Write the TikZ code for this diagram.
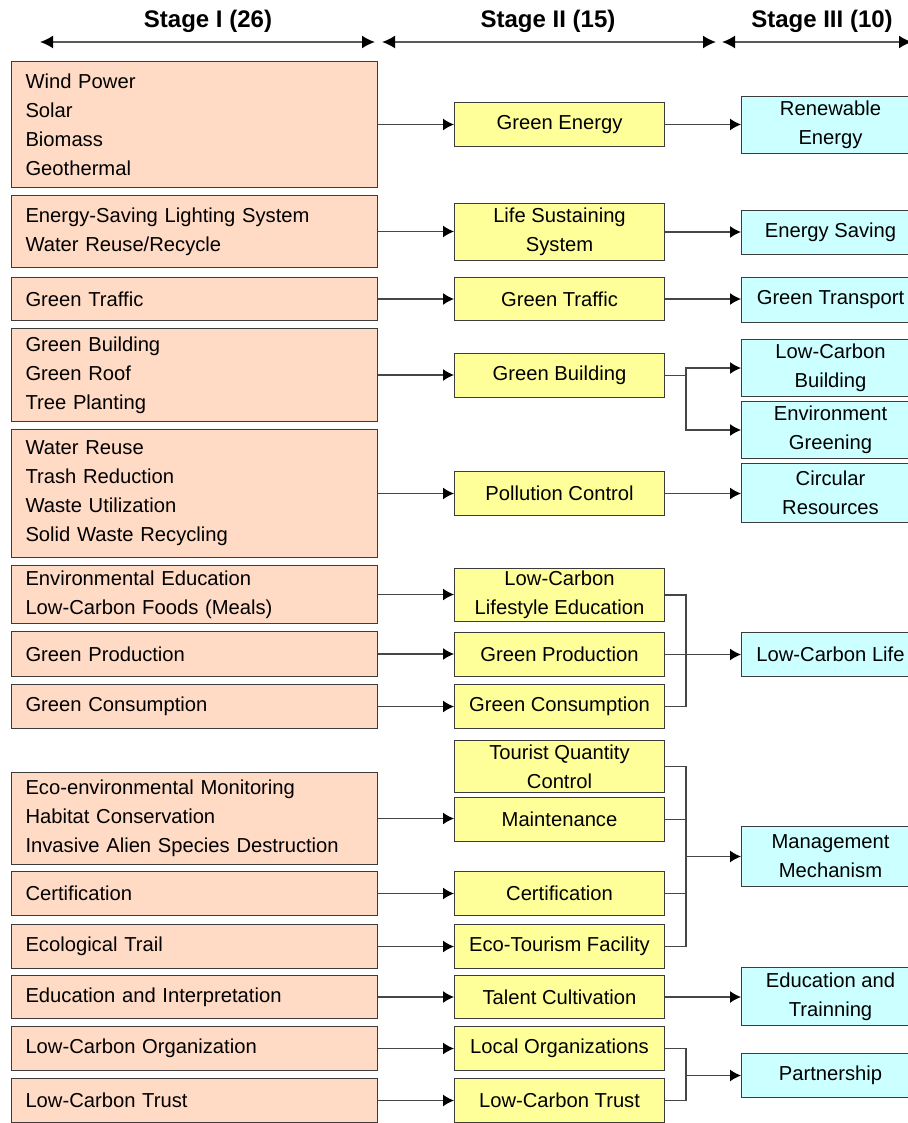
\documentclass[tikz,border=0pt]{standalone}
\usepackage{fontspec}
\setmainfont{Liberation Sans}
\usetikzlibrary{arrows.meta}
\definecolor{peach}{RGB}{255,218,196}
\definecolor{lemon}{RGB}{255,255,153}
\definecolor{aqua}{RGB}{204,255,255}
\definecolor{edge}{RGB}{60,60,60}
\definecolor{wire}{RGB}{70,70,70}
\tikzset{
  box/.style={draw=edge, line width=1pt, inner sep=0pt, anchor=north west,
    font=\fontsize{20.2}{29}\selectfont, text=black},
  lbox/.style={box, fill=peach, align=left, text width=338pt, inner xsep=14pt, minimum width=366pt},
  mbox/.style={box, fill=lemon, align=center, minimum width=210pt},
  rbox/.style={box, fill=aqua, align=center, minimum width=178pt},
  arr/.style={line width=1.3pt, draw=wire, -{Latex[length=11pt,width=12pt,color=black]}},
  wirel/.style={line width=1.2pt, draw=wire},
  span/.style={line width=1.8pt, draw=black!65, {Latex[length=13pt,width=13pt,color=black]}-{Latex[length=13pt,width=13pt,color=black]}},
  head/.style={font=\fontsize{24}{26}\selectfont\bfseries}
}
\begin{document}
\begin{tikzpicture}[x=1pt, y=-1pt]
\useasboundingbox (0,0) rectangle (907,1123);
\fill[white] (0,0) rectangle (907,1123);

% stage headers
\node[head] (h1) at (208,21) {Stage I (26)};
\node[head] (h2) at (548,21) {Stage II (15)};
\node[head] (h3) at (822,21) {Stage III (10)};
\coordinate (a1l) at (40,42);  \coordinate (a1r) at (375,42);
\coordinate (a2l) at (382,42); \coordinate (a2r) at (716,42);
\coordinate (a3l) at (722,42); \coordinate (a3r) at (912,42);
\draw[span] (a1l) -- (a1r);
\draw[span] (a2l) -- (a2r);
\draw[span] (a3l) -- (a3r);

% stage I
\node[lbox, minimum height=126pt] (l1) at (11,61) {Wind Power\\Solar\\Biomass\\Geothermal};
\node[lbox, minimum height=72pt] (l2) at (11,195) {Energy-Saving Lighting System\\Water Reuse/Recycle};
\node[lbox, minimum height=43pt] (l3) at (11,277) {Green Traffic};
\node[lbox, minimum height=93pt] (l4) at (11,328) {Green Building\\Green Roof\\Tree Planting};
\node[lbox, minimum height=128pt] (l5) at (11,429) {Water Reuse\\Trash Reduction\\Waste Utilization\\Solid Waste Recycling};
\node[lbox, minimum height=58pt] (l6) at (11,565) {Environmental Education\\Low-Carbon Foods (Meals)};
\node[lbox, minimum height=45pt] (l7) at (11,631) {Green Production};
\node[lbox, minimum height=44pt] (l8) at (11,684) {Green Consumption};
\node[lbox, minimum height=92pt] (l9) at (11,772) {Eco-environmental Monitoring\\Habitat Conservation\\Invasive Alien Species Destruction};
\node[lbox, minimum height=44pt] (l10) at (11,871) {Certification};
\node[lbox, minimum height=44pt] (l11) at (11,924) {Ecological Trail};
\node[lbox, minimum height=43pt] (l12) at (11,975) {Education and Interpretation};
\node[lbox, minimum height=44pt] (l13) at (11,1026) {Low-Carbon Organization};
\node[lbox, minimum height=44pt] (l14) at (11,1078) {Low-Carbon Trust};

% stage II
\node[mbox, minimum height=44pt] (m1) at (454,102) {Green Energy};
\node[mbox, minimum height=57pt] (m2) at (454,203) {Life Sustaining\\System};
\node[mbox, minimum height=43pt] (m3) at (454,277) {Green Traffic};
\node[mbox, minimum height=44pt] (m4) at (454,353) {Green Building};
\node[mbox, minimum height=44pt] (m5) at (454,471) {Pollution Control};
\node[mbox, minimum height=53pt] (m6) at (454,568) {Low-Carbon\\Lifestyle Education};
\node[mbox, minimum height=44pt] (m7) at (454,632) {Green Production};
\node[mbox, minimum height=44pt] (m8) at (454,684) {Green Consumption};
\node[mbox, minimum height=52pt] (m9) at (454,740) {Tourist Quantity\\Control};
\node[mbox, minimum height=44pt] (m10) at (454,797) {Maintenance};
\node[mbox, minimum height=44pt] (m11) at (454,871) {Certification};
\node[mbox, minimum height=44pt] (m12) at (454,924) {Eco-Tourism Facility};
\node[mbox, minimum height=43pt] (m13) at (454,975) {Talent Cultivation};
\node[mbox, minimum height=44pt] (m14) at (454,1026) {Local Organizations};
\node[mbox, minimum height=44pt] (m15) at (454,1078) {Low-Carbon Trust};

% stage III
\node[rbox, minimum height=57pt] (r1) at (741,96) {Renewable\\Energy};
\node[rbox, minimum height=44pt] (r2) at (741,210) {Energy Saving};
\node[rbox, minimum height=45pt] (r3) at (741,277) {Green Transport};
\node[rbox, minimum height=57pt] (r4) at (741,339) {Low-Carbon\\Building};
\node[rbox, minimum height=57pt] (r5) at (741,401) {Environment\\Greening};
\node[rbox, minimum height=59pt] (r6) at (741,463) {Circular\\Resources};
\node[rbox, minimum height=44pt] (r7) at (741,632) {Low-Carbon Life};
\node[rbox, minimum height=60pt] (r8) at (741,826) {Management\\Mechanism};
\node[rbox, minimum height=58pt] (r9) at (741,967) {Education and\\Trainning};
\node[rbox, minimum height=44pt] (r10) at (741,1053) {Partnership};

% stage I -> stage II
\foreach \a/\b in {l1/m1,l2/m2,l3/m3,l4/m4,l5/m5,l6/m6,l7/m7,l8/m8,l9/m10,l10/m11,l11/m12,l12/m13,l13/m14,l14/m15}
  \draw[arr] (\a.east) -- (\a.east -| \b.west);

% stage II -> stage III, one to one
\foreach \a/\b in {m1/r1,m2/r2,m3/r3,m5/r6,m13/r9}
  \draw[arr] (\a.east) -- (\a.east -| \b.west);

% bus line shared by the gathering connectors
\coordinate (bus) at (686,0);

% green building splits in two
\draw[wirel] (m4.east) -- (m4.east -| bus) coordinate (jb);
\draw[arr] (jb) |- (r4.west);
\draw[arr] (jb) |- (r5.west);

% low-carbon life gathers three
\draw[wirel] (m6.east) -- (m6.east -| bus) -- (m8.east -| bus) -- (m8.east);
\draw[wirel] (m7.east) -- (m7.east -| bus) coordinate (jl);
\draw[arr] (jl) -- (jl -| r7.west);

% management mechanism gathers four
\draw[wirel] (m9.east) -- (m9.east -| bus) -- (m12.east -| bus) -- (m12.east);
\draw[wirel] (m10.east) -- (m10.east -| bus);
\draw[wirel] (m11.east) -- (m11.east -| bus);
\draw[arr] (r8.west -| bus) -- (r8.west);

% partnership gathers two
\draw[wirel] (m14.east) -- (m14.east -| bus) -- (m15.east -| bus) -- (m15.east);
\draw[arr] (r10.west -| bus) -- (r10.west);
\end{tikzpicture}
\end{document}
